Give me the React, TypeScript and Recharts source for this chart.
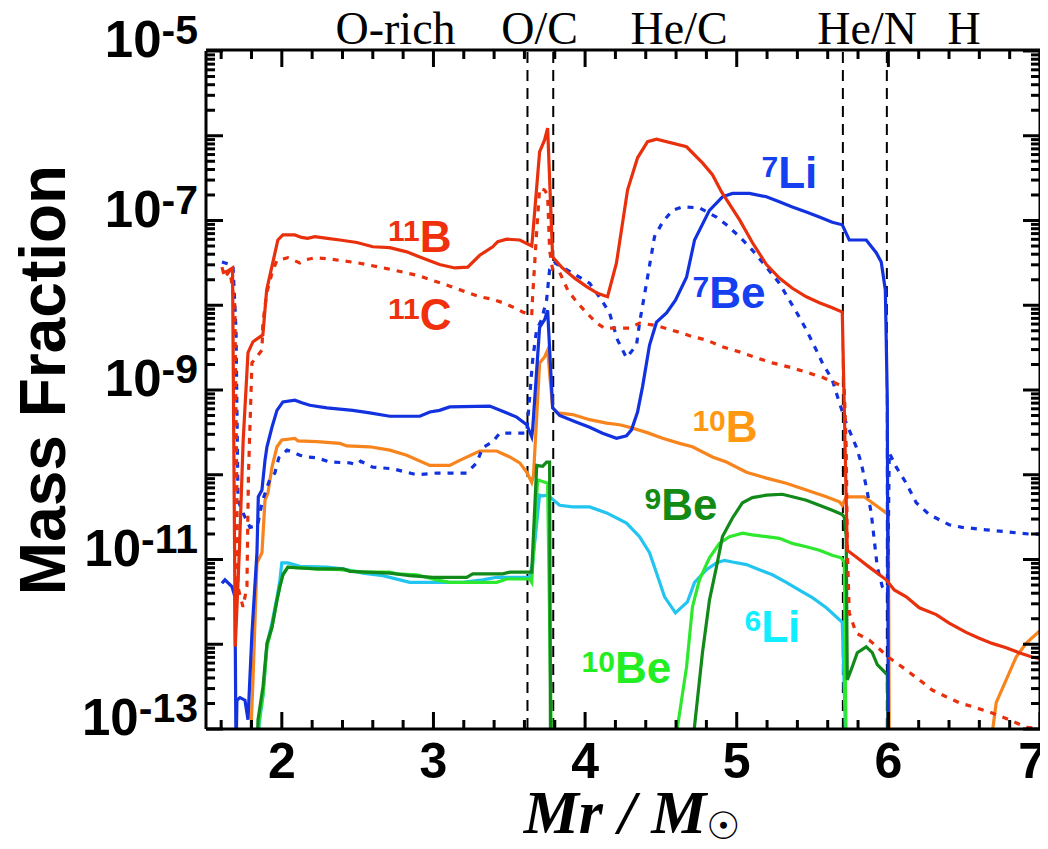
import React from 'react';
import { LineChart, Line, XAxis, YAxis, ReferenceLine, ReferenceDot, Label } from 'recharts';

type P = [number, number | null];

// Mass coordinate Mr/Msun and log10(mass fraction)
const B11: P[] = [
  [1.605, -7.62], [1.64, -7.6], [1.675, -7.56], [1.693, -12.03], [1.72, -10.9], [1.745, -9.6],
  [1.777, -8.56], [1.81, -8.43], [1.875, -8.35], [1.9, -7.82], [1.94, -7.5], [1.974, -7.23],
  [2.007, -7.17], [2.086, -7.17], [2.13, -7.2], [2.17, -7.21], [2.218, -7.19], [2.3, -7.21],
  [2.383, -7.23], [2.495, -7.26], [2.6, -7.31], [2.712, -7.32], [2.824, -7.37], [2.91, -7.43],
  [3.04, -7.52], [3.14, -7.56], [3.226, -7.55], [3.305, -7.41], [3.391, -7.31], [3.424, -7.25],
  [3.483, -7.22], [3.569, -7.23], [3.648, -7.3], [3.654, -7.19], [3.7, -6.19], [3.733, -6.05],
  [3.753, -5.91], [3.786, -7.43], [3.845, -7.55], [3.931, -7.68], [4.01, -7.78], [4.082, -7.86],
  [4.148, -7.9], [4.207, -7.5], [4.28, -6.64], [4.346, -6.26], [4.412, -6.07], [4.471, -6.04],
  [4.669, -6.13], [4.774, -6.32], [4.84, -6.46], [4.899, -6.66], [5.018, -6.99], [5.103, -7.26],
  [5.196, -7.52], [5.281, -7.68], [5.367, -7.8], [5.459, -7.9], [5.545, -7.97], [5.63, -8.03],
  [5.696, -8.08], [5.729, -10.89], [5.788, -10.97], [5.874, -11.09], [5.986, -11.24], [6.039, -11.36],
  [6.118, -11.44], [6.204, -11.57], [6.316, -11.65], [6.401, -11.75], [6.513, -11.86], [6.599, -11.93],
  [6.684, -11.99], [6.777, -12.04], [6.862, -12.1], [6.948, -12.15], [7.0, -12.17],
];

const C11: P[] = [
  [1.605, -7.55], [1.625, -7.67], [1.658, -7.59], [1.69, -8.0], [1.71, -11.32], [1.744, -11.56],
  [1.77, -11.32], [1.78, -10.0], [1.803, -8.68], [1.869, -8.53], [1.875, -8.21], [1.9, -7.86],
  [1.935, -7.62], [1.968, -7.47], [2.04, -7.44], [2.119, -7.5], [2.165, -7.46], [2.218, -7.44],
  [2.3, -7.45], [2.5, -7.5], [2.7, -7.57], [2.9, -7.65], [3.1, -7.77], [3.305, -7.9], [3.391, -7.93],
  [3.457, -7.97], [3.522, -8.02], [3.588, -8.08], [3.648, -8.12], [3.654, -7.9], [3.68, -7.15],
  [3.7, -6.62], [3.733, -6.64], [3.753, -6.7], [3.766, -7.35], [3.786, -7.58], [3.832, -7.61],
  [3.885, -7.82], [3.944, -7.96], [4.01, -8.09], [4.076, -8.21], [4.128, -8.27], [4.293, -8.27],
  [4.359, -8.21], [4.471, -8.24], [4.623, -8.32], [4.708, -8.37], [4.8, -8.41], [4.906, -8.49],
  [5.018, -8.55], [5.13, -8.62], [5.235, -8.68], [5.347, -8.73], [5.459, -8.79], [5.565, -8.85],
  [5.677, -8.94], [5.709, -8.98], [5.722, -9.67], [5.729, -10.85], [5.742, -11.63], [5.788, -11.87],
  [5.874, -11.95], [6.006, -12.16], [6.092, -12.27], [6.204, -12.42], [6.289, -12.54], [6.381, -12.62],
  [6.467, -12.69], [6.579, -12.75], [6.684, -12.81], [6.797, -12.89], [6.908, -12.98], [6.974, -12.99],
  [7.0, -13.05],
];

const LI7: P[] = [
  [1.605, -11.28], [1.625, -11.24], [1.671, -11.32], [1.691, -11.44], [1.698, -13.3], [1.704, -12.66],
  [1.724, -12.63], [1.757, -12.66], [1.777, -12.89], [1.803, -11.87], [1.836, -10.92], [1.845, -10.26],
  [1.869, -10.18], [1.889, -9.83], [1.902, -9.67], [1.935, -9.44], [1.968, -9.24], [2.007, -9.14],
  [2.086, -9.12], [2.132, -9.15], [2.185, -9.18], [2.297, -9.21], [2.468, -9.24], [2.58, -9.27],
  [2.712, -9.31], [2.91, -9.31], [2.976, -9.26], [3.04, -9.24], [3.107, -9.2], [3.371, -9.19],
  [3.456, -9.25], [3.549, -9.32], [3.615, -9.41], [3.648, -9.55], [3.654, -9.47], [3.7, -8.26],
  [3.733, -8.17], [3.753, -8.06], [3.786, -9.21], [3.832, -9.3], [3.944, -9.38], [4.03, -9.44],
  [4.115, -9.51], [4.207, -9.57], [4.273, -9.54], [4.306, -9.47], [4.346, -9.26], [4.379, -8.96],
  [4.425, -8.47], [4.471, -8.2], [4.537, -8.09], [4.596, -7.94], [4.669, -7.67], [4.722, -7.23],
  [4.82, -6.88], [4.906, -6.72], [4.972, -6.68], [5.084, -6.68], [5.196, -6.72], [5.281, -6.78],
  [5.367, -6.84], [5.459, -6.9], [5.545, -6.96], [5.63, -7.02], [5.696, -7.05], [5.742, -7.23],
  [5.854, -7.23], [5.92, -7.38], [5.953, -7.49], [5.98, -7.82], [5.993, -9.12], [6.0, -13.3],
];

const BE7: P[] = [
  [1.605, -7.49], [1.678, -7.53], [1.698, -8.29], [1.711, -10.3], [1.744, -10.45], [1.79, -10.62],
  [1.84, -10.6], [1.869, -10.33], [1.889, -10.22], [1.92, -10.06], [1.954, -9.98], [1.98, -9.8],
  [2.0, -9.77], [2.034, -9.71], [2.07, -9.73], [2.119, -9.77], [2.165, -9.79], [2.231, -9.8],
  [2.317, -9.85], [2.449, -9.86], [2.495, -9.88], [2.52, -9.84], [2.6, -9.91], [2.732, -9.93],
  [2.89, -10.0], [3.022, -9.98], [3.219, -9.98], [3.285, -9.86], [3.325, -9.68], [3.391, -9.61],
  [3.437, -9.51], [3.615, -9.51], [3.654, -8.65], [3.68, -8.29], [3.713, -8.17], [3.746, -7.94],
  [3.766, -7.58], [3.799, -7.5], [3.918, -7.62], [4.03, -7.74], [4.109, -7.94], [4.161, -8.09],
  [4.214, -8.41], [4.273, -8.62], [4.339, -8.47], [4.359, -8.21], [4.405, -7.74], [4.458, -7.19],
  [4.511, -7.02], [4.576, -6.88], [4.642, -6.84], [4.754, -6.85], [4.866, -6.96], [4.932, -7.05],
  [5.018, -7.19], [5.103, -7.35], [5.196, -7.55], [5.281, -7.74], [5.347, -7.94], [5.413, -8.14],
  [5.459, -8.29], [5.525, -8.53], [5.565, -8.68], [5.63, -8.88], [5.677, -9.15], [5.722, -9.39],
  [5.788, -9.67], [5.821, -9.86], [5.854, -10.14], [5.887, -10.45], [5.907, -10.77], [5.927, -11.09],
  [5.96, -11.32], [5.995, -11.4], [6.006, -9.74], [6.052, -9.91], [6.118, -10.1], [6.184, -10.33],
  [6.27, -10.47], [6.401, -10.59], [6.487, -10.62], [6.645, -10.65], [6.816, -10.68], [6.928, -10.7],
  [7.0, -10.7],
];

const B10: P[] = [
  [1.79, -13.3], [1.81, -12.42], [1.836, -11.04], [1.869, -10.92], [1.889, -10.3], [1.908, -10.22],
  [1.935, -9.91], [1.968, -9.67], [2.0, -9.59], [2.086, -9.57], [2.106, -9.6], [2.231, -9.61],
  [2.383, -9.63], [2.429, -9.66], [2.58, -9.67], [2.712, -9.71], [2.824, -9.77], [2.976, -9.89],
  [3.107, -9.89], [3.173, -9.83], [3.305, -9.72], [3.417, -9.72], [3.503, -9.79], [3.569, -9.86],
  [3.615, -9.97], [3.648, -10.09], [3.66, -10.0], [3.7, -8.68], [3.733, -8.61], [3.753, -8.53],
  [3.786, -9.21], [3.819, -9.27], [3.918, -9.29], [4.03, -9.35], [4.142, -9.39], [4.227, -9.41],
  [4.293, -9.44], [4.405, -9.5], [4.511, -9.57], [4.623, -9.63], [4.708, -9.67], [4.84, -9.79],
  [4.932, -9.85], [5.064, -9.97], [5.196, -10.04], [5.327, -10.1], [5.459, -10.18], [5.591, -10.26],
  [5.677, -10.32], [5.696, -10.36], [5.722, -10.26], [5.841, -10.26], [5.894, -10.33], [5.986, -10.45],
  [6.0, -10.47], [6.006, -13.3], [6.3, null], [6.684, -13.3], [6.69, -12.98], [6.711, -12.69],
  [6.777, -12.42], [6.843, -12.15], [6.908, -11.99], [6.981, -11.87], [7.0, -11.84],
];

const BE9: P[] = [
  [1.836, -13.3], [1.843, -12.89], [1.876, -12.5], [1.902, -11.99], [1.935, -11.8], [1.968, -11.48],
  [1.987, -11.32], [2.007, -11.18], [2.04, -11.09], [2.119, -11.1], [2.231, -11.11], [2.403, -11.11],
  [2.449, -11.14], [2.561, -11.15], [2.712, -11.16], [2.844, -11.19], [2.995, -11.21], [3.219, -11.21],
  [3.259, -11.17], [3.457, -11.17], [3.503, -11.15], [3.648, -11.15], [3.681, -9.89], [3.72, -9.9],
  [3.746, -9.85], [3.766, -9.85], [3.772, -13.3], [4.2, null], [4.715, -13.3], [4.721, -12.98],
  [4.774, -12.1], [4.82, -11.48], [4.866, -11.09], [4.906, -10.73], [4.972, -10.51], [5.038, -10.33],
  [5.103, -10.27], [5.196, -10.24], [5.301, -10.23], [5.367, -10.26], [5.459, -10.3], [5.545, -10.36],
  [5.63, -10.42], [5.696, -10.47], [5.709, -10.5], [5.722, -10.73], [5.729, -12.42], [5.755, -12.3],
  [5.795, -12.1], [5.854, -12.03], [5.894, -12.1], [5.927, -12.24], [5.993, -12.36], [6.0, -13.3],
];

const BE10: P[] = [
  [1.84, -13.3], [1.85, -12.89], [1.876, -12.6], [1.902, -12.03], [1.935, -11.8], [1.968, -11.48],
  [1.987, -11.32], [2.007, -11.18], [2.04, -11.09], [2.231, -11.11], [2.383, -11.12], [2.534, -11.15],
  [2.712, -11.15], [2.758, -11.17], [2.89, -11.18], [3.022, -11.24], [3.107, -11.27], [3.417, -11.27],
  [3.483, -11.23], [3.634, -11.23], [3.648, -11.27], [3.687, -10.06], [3.753, -10.1], [3.779, -13.3],
  [4.2, null], [4.6, -13.3], [4.609, -12.98], [4.669, -12.27], [4.708, -11.56], [4.754, -11.24],
  [4.82, -10.98], [4.886, -10.81], [4.952, -10.73], [5.038, -10.69], [5.103, -10.71], [5.196, -10.73],
  [5.281, -10.75], [5.367, -10.81], [5.459, -10.85], [5.545, -10.89], [5.63, -10.95], [5.689, -10.98],
  [5.709, -11.03], [5.722, -13.3],
];

const LI6: P[] = [
  [1.843, -13.3], [1.85, -12.95], [1.876, -12.6], [1.902, -12.0], [1.935, -11.75], [1.968, -11.45],
  [1.987, -11.25], [2.0, -11.04], [2.04, -11.04], [2.119, -11.08], [2.297, -11.09], [2.403, -11.11],
  [2.534, -11.16], [2.666, -11.19], [2.844, -11.27], [3.193, -11.27], [3.325, -11.24], [3.417, -11.21],
  [3.634, -11.21], [3.654, -11.04], [3.7, -10.24], [3.72, -10.25], [3.753, -10.24], [3.832, -10.36],
  [3.918, -10.38], [4.03, -10.38], [4.142, -10.45], [4.273, -10.57], [4.359, -10.73], [4.425, -10.92],
  [4.471, -11.16], [4.524, -11.44], [4.596, -11.63], [4.675, -11.5], [4.722, -11.27], [4.8, -11.12],
  [4.866, -11.04], [4.919, -11.01], [4.972, -11.03], [5.064, -11.06], [5.149, -11.12], [5.235, -11.18],
  [5.327, -11.27], [5.413, -11.36], [5.499, -11.45], [5.591, -11.57], [5.696, -11.74], [5.722, -13.3],
];

const ZONE_BOUNDS = [3.62, 3.79, 5.7, 5.99];
const REGION_NAMES = ['O-rich', 'O/C', 'He/C', 'He/N', 'H'];
const REGION_X = [2.75, 3.7, 4.62, 5.86, 6.5];

const X_MAJOR = [2, 3, 4, 5, 6, 7];
const X_MINOR = [1.6, 1.8, 2.2, 2.4, 2.6, 2.8, 3.2, 3.4, 3.6, 3.8, 4.2, 4.4, 4.6, 4.8, 5.2, 5.4, 5.6, 5.8, 6.2, 6.4, 6.6, 6.8];
const Y_DECADES = [-13, -12, -11, -10, -9, -8, -7, -6, -5];
const Y_LABELED = [-13, -11, -9, -7, -5];
const Y_MANTISSAS = [2, 3, 4, 5, 6, 7, 8, 9];

type Species = { mass: string; sym: string; x: number; logY: number; color: string };
const SPECIES_LABELS: Species[] = [
  { mass: '11', sym: 'B', x: 2.7, logY: -7.37, color: '#f0300c' },
  { mass: '11', sym: 'C', x: 2.7, logY: -8.29, color: '#f0300c' },
  { mass: '7', sym: 'Li', x: 5.163, logY: -6.62, color: '#1440f0' },
  { mass: '7', sym: 'Be', x: 4.708, logY: -8.03, color: '#1440f0' },
  { mass: '10', sym: 'B', x: 4.708, logY: -9.61, color: '#ff9810' },
  { mass: '9', sym: 'Be', x: 4.392, logY: -10.53, color: '#138a14' },
  { mass: '6', sym: 'Li', x: 5.051, logY: -11.97, color: '#10eeff' },
  { mass: '10', sym: 'Be', x: 3.977, logY: -12.46, color: '#22ee22' },
];

const SANS = "'Liberation Sans', Arial, Helvetica, sans-serif";
const SERIF = "'Liberation Serif', 'Times New Roman', Times, serif";

const toData = (pts: P[]) => pts.map(([x, l]) => ({ x, y: l === null ? null : Math.pow(10, l) }));

const xTicks = [...X_MINOR, ...X_MAJOR].sort((a, b) => a - b);
const yTicks: number[] = [];
Y_DECADES.forEach((e) => {
  yTicks.push(Math.pow(10, e));
  if (e < -5) Y_MANTISSAS.forEach((m) => yTicks.push(m * Math.pow(10, e)));
});

const isMajorX = (v: number) => X_MAJOR.some((m) => Math.abs(m - v) < 1e-6);
const X_LAST = X_MAJOR[X_MAJOR.length - 1];

const makeXTick = (side: 'bottom' | 'top') => (props: any) => {
  const { x, y, payload } = props;
  const v = payload.value;
  const major = isMajorX(v);
  const len = major ? 17 : 9;
  const dir = side === 'bottom' ? -1 : 1;
  const last = Math.abs(v - X_LAST) < 1e-6;
  return (
    <g>
      <line x1={x} x2={x} y1={y} y2={y + dir * len} stroke="#000" strokeWidth={3} />
      {side === 'bottom' && major ? (
        <text
          x={last ? x + 6 : x}
          y={y + 49}
          textAnchor={last ? 'end' : 'middle'}
          fontFamily={SANS}
          fontWeight="bold"
          fontSize={50}
          fill="#000"
        >
          {Math.round(v)}
        </text>
      ) : null}
    </g>
  );
};

const makeYTick = (side: 'left' | 'right') => (props: any) => {
  const { x, y, payload } = props;
  const v = payload.value;
  const lg = Math.log10(v);
  const e = Math.round(lg);
  const major = Math.abs(lg - e) < 1e-6;
  const len = major ? 17 : 9;
  const dir = side === 'left' ? 1 : -1;
  return (
    <g>
      <line x1={x} x2={x + dir * len} y1={y} y2={y} stroke="#000" strokeWidth={3} />
      {side === 'left' && major && Y_LABELED.includes(e) ? (
        <text x={x - 8} y={y + 6} textAnchor="end" fontFamily={SANS} fontWeight="bold" fontSize={51} fill="#000">
          10
          <tspan fontSize={41} dy={-13}>{`${e}`}</tspan>
        </text>
      ) : null}
    </g>
  );
};

const regionTick = (props: any) => {
  const { x, y, index } = props;
  return (
    <text x={x} y={y - 7} textAnchor="middle" fontFamily={SERIF} fontSize={46} fill="#000">
      {REGION_NAMES[index]}
    </text>
  );
};

const speciesShape = (s: Species) => (props: any) => {
  const { cx, cy } = props;
  return (
    <text x={cx} y={cy} fill={s.color} fontFamily={SANS} fontWeight="bold">
      <tspan fontSize={30} dy={-11}>{s.mass}</tspan>
      <tspan fontSize={44} dy={11}>{s.sym}</tspan>
    </text>
  );
};

const XTitle = (props: any) => {
  const vb = props.viewBox || { x: 206, y: 729, width: 834, height: 120 };
  const cx = vb.x + vb.width / 2 + 9;
  const by = vb.y + 104;
  return (
    <text x={cx} y={by} textAnchor="middle" fontFamily={SERIF} fontStyle="italic" fontWeight="bold" fontSize={62} fill="#000">
      Mr / M
      <tspan fontFamily="'DejaVu Sans', sans-serif" fontStyle="normal" fontWeight="normal" fontSize={38} dy={6}>☉</tspan>
    </text>
  );
};

const YTitle = (props: any) => {
  const vb = props.viewBox || { x: 0, y: 49, width: 206, height: 678 };
  const cx = vb.x + 42;
  const cy = 380;
  return (
    <text
      x={0}
      y={23}
      transform={`translate(${cx},${cy}) rotate(-90)`}
      textAnchor="middle"
      fontFamily={SANS}
      fontWeight="bold"
      fontSize={64}
      fill="#000"
    >
      Mass Fraction
    </text>
  );
};

const SERIES = [
  { key: 'b10', pts: B10, color: '#f7841c', dash: undefined },
  { key: 'li6', pts: LI6, color: '#22c4f0', dash: undefined },
  { key: 'be10', pts: BE10, color: '#2ee82e', dash: undefined },
  { key: 'be9', pts: BE9, color: '#118a1a', dash: undefined },
  { key: 'be7', pts: BE7, color: '#1232e0', dash: '6 7' },
  { key: 'li7', pts: LI7, color: '#1232e0', dash: undefined },
  { key: 'c11', pts: C11, color: '#e8300c', dash: '6 7' },
  { key: 'b11', pts: B11, color: '#e8300c', dash: undefined },
];

const axisLine = { stroke: '#000', strokeWidth: 3 };

export default function App() {
  return (
    <div style={{ width: 1048, height: 849, marginTop: -8, marginLeft: -8, background: '#fff' }}>
      <LineChart width={1048} height={849} margin={{ top: 49, right: 7, bottom: 0, left: 0 }}>
        <XAxis
          xAxisId="b"
          dataKey="x"
          type="number"
          domain={[1.5, 7]}
          allowDataOverflow
          orientation="bottom"
          height={120}
          ticks={xTicks}
          interval={0}
          tickSize={0}
          tickMargin={0}
          tickLine={false}
          axisLine={axisLine}
          tick={makeXTick('bottom')}
        >
          <Label content={XTitle} />
        </XAxis>
        <XAxis
          xAxisId="t"
          dataKey="x"
          type="number"
          domain={[1.5, 7]}
          allowDataOverflow
          orientation="top"
          height={1}
          ticks={xTicks}
          interval={0}
          tickSize={0}
          tickMargin={0}
          tickLine={false}
          axisLine={axisLine}
          tick={makeXTick('top')}
        />
        <XAxis
          xAxisId="lab"
          dataKey="x"
          type="number"
          domain={[1.5, 7]}
          allowDataOverflow
          orientation="top"
          height={1}
          ticks={REGION_X}
          interval={0}
          tickSize={0}
          tickMargin={0}
          tickLine={false}
          axisLine={false}
          tick={regionTick}
        />
        <YAxis
          yAxisId="l"
          type="number"
          scale="log"
          domain={[1e-13, 1e-5]}
          allowDataOverflow
          orientation="left"
          width={206}
          ticks={yTicks}
          interval={0}
          tickSize={0}
          tickMargin={0}
          tickLine={false}
          axisLine={axisLine}
          tick={makeYTick('left')}
        >
          <Label content={YTitle} />
        </YAxis>
        <YAxis
          yAxisId="r"
          type="number"
          scale="log"
          domain={[1e-13, 1e-5]}
          allowDataOverflow
          orientation="right"
          width={1}
          ticks={yTicks}
          interval={0}
          tickSize={0}
          tickMargin={0}
          tickLine={false}
          axisLine={axisLine}
          tick={makeYTick('right')}
        />
        {ZONE_BOUNDS.map((b) => (
          <ReferenceLine
            key={`z${b}`}
            x={b}
            xAxisId="b"
            yAxisId="l"
            stroke="#000"
            strokeWidth={2}
            strokeDasharray="11 7"
          />
        ))}
        {SERIES.map((s) => (
          <Line
            key={s.key}
            data={toData(s.pts)}
            dataKey="y"
            xAxisId="b"
            yAxisId="l"
            type="linear"
            stroke={s.color}
            strokeWidth={3.2}
            strokeDasharray={s.dash}
            dot={false}
            activeDot={false}
            isAnimationActive={false}
          />
        ))}
        {SPECIES_LABELS.map((s) => (
          <ReferenceDot
            key={`${s.mass}${s.sym}`}
            x={s.x}
            y={Math.pow(10, s.logY)}
            xAxisId="b"
            yAxisId="l"
            r={0}
            shape={speciesShape(s)}
          />
        ))}
      </LineChart>
    </div>
  );
}
